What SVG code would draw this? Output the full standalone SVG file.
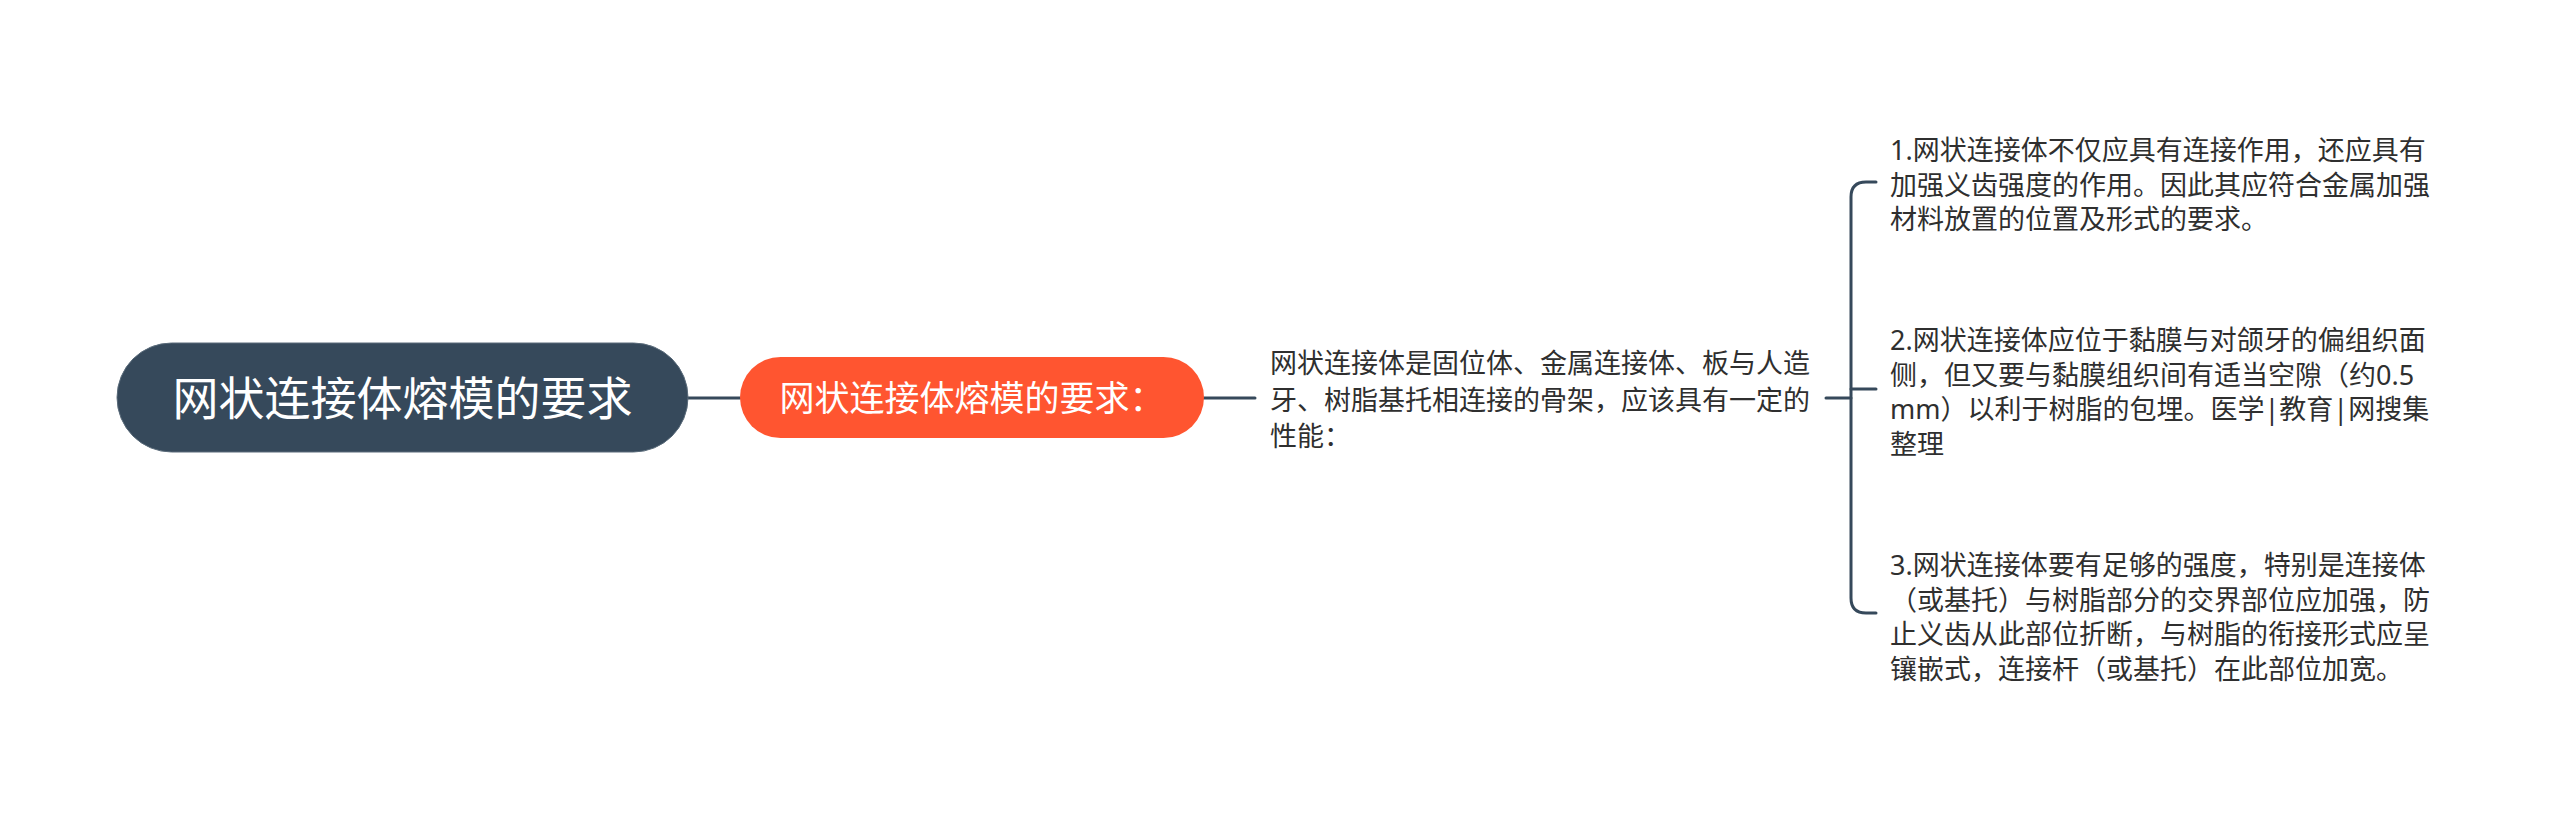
<svg xmlns="http://www.w3.org/2000/svg" width="2560" height="813" viewBox="0 0 2560 813">
<style>
.conn{fill:none;stroke:#36495b;stroke-width:3;stroke-linecap:round}
.body{font-family:"Noto Sans","Noto Sans CJK SC",sans-serif;font-size:27px;fill:#2f2f2f}
.ttl{font-family:"Noto Sans","Noto Sans CJK SC",sans-serif;fill:#ffffff;text-anchor:middle}
</style>
<rect width="2560" height="813" fill="#ffffff"/>
<g id="connectors">
<path class="conn" d="M688 398 H740"/>
<path class="conn" d="M1204 398 H1255"/>
<path class="conn" d="M1826 398 H1851"/>
<path class="conn" d="M1876 182 H1866 Q1851 182 1851 197 V598 Q1851 613 1866 613 H1876"/>
<path class="conn" d="M1851 389 H1876"/>
</g>
<g id="root">
<rect x="117" y="343" width="571" height="109" rx="54.5" fill="#36495b" stroke="#5a6b7a" stroke-width="1"/>
<text class="ttl" x="402.5" y="415" font-size="46">网状连接体熔模的要求</text>
</g>
<g id="sub">
<rect x="740" y="357" width="464" height="81" rx="40.5" fill="#ff5530"/>
<text class="ttl" x="972" y="411" font-size="35">网状连接体熔模的要求：</text>
</g>
<g id="desc">
<text class="body"><tspan x="1270" y="373">网状连接体是固位体、金属连接体、板与人造</tspan><tspan x="1270" y="409.5">牙、树脂基托相连接的骨架，应该具有一定的</tspan><tspan x="1270" y="446">性能：</tspan></text>
</g>
<g id="item1">
<text class="body"><tspan x="1890" y="160">1.网状连接体不仅应具有连接作用，还应具有</tspan><tspan x="1890" y="194.5">加强义齿强度的作用。因此其应符合金属加强</tspan><tspan x="1890" y="229">材料放置的位置及形式的要求。</tspan></text>
</g>
<g id="item2">
<text class="body"><tspan x="1890" y="350">2.网状连接体应位于黏膜与对颌牙的偏组织面</tspan><tspan x="1890" y="384.5">侧，但又要与黏膜组织间有适当空隙（约0.5</tspan><tspan x="1890" y="419">mm）以利于树脂的包埋。医学|教育|网搜集</tspan><tspan x="1890" y="453.5">整理</tspan></text>
</g>
<g id="item3">
<text class="body"><tspan x="1890" y="575">3.网状连接体要有足够的强度，特别是连接体</tspan><tspan x="1890" y="609.5">（或基托）与树脂部分的交界部位应加强，防</tspan><tspan x="1890" y="644">止义齿从此部位折断，与树脂的衔接形式应呈</tspan><tspan x="1890" y="678.5">镶嵌式，连接杆（或基托）在此部位加宽。</tspan></text>
</g>
</svg>
